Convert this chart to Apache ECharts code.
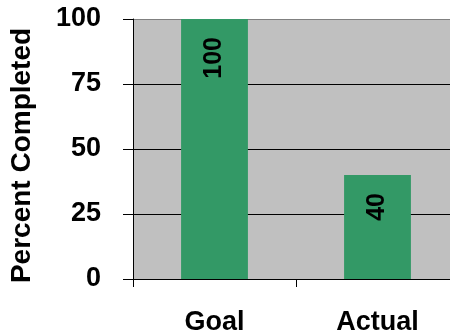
<!DOCTYPE html>
<html>
<head>
<meta charset="utf-8">
<script src="https://cdn.jsdelivr.net/npm/echarts@6/dist/echarts.min.js"></script>
<style>
html,body{margin:0;padding:0;background:#fff;}
#chart{width:450px;height:331px;}
</style>
</head>
<body>
<div id="chart"></div>
<script>
const categories = ['Goal', 'Actual'];
const percentValues = [100, 40];
const yTicks = [0, 25, 50, 75, 100];
const yTitle = 'Percent Completed';

const FONT = '"Liberation Sans", Arial, sans-serif';
const chart = echarts.init(document.getElementById('chart'), null, {renderer: 'canvas'});
chart.setOption({
  animation: false,
  grid: {
    left: 133, top: 19, width: 326, height: 260,
    outerBoundsMode: 'none',
    containLabel: false,
    show: true, backgroundColor: '#C0C0C0', borderWidth: 0
  },
  xAxis: {
    type: 'category',
    data: categories,
    axisLine: {lineStyle: {color: '#000', width: 1}},
    axisTick: {show: true, length: 8, inside: false, lineStyle: {color: '#000'}},
    axisLabel: {color: '#000', fontFamily: FONT, fontWeight: 'bold', fontSize: 27, margin: 30},
    splitLine: {show: false}
  },
  yAxis: {
    type: 'value',
    min: yTicks[0], max: yTicks[yTicks.length - 1], interval: 25,
    name: yTitle,
    nameLocation: 'middle',
    nameGap: 97,
    nameTextStyle: {color: '#000', fontFamily: FONT, fontWeight: 'bold', fontSize: 28, padding: [0, 13, 0, 0]},
    axisLine: {show: true, lineStyle: {color: '#000', width: 1}},
    axisTick: {show: true, length: 10, lineStyle: {color: '#000'}},
    axisLabel: {color: '#000', fontFamily: FONT, fontWeight: 'bold', fontSize: 27, margin: 32},
    splitLine: {show: true, lineStyle: {color: ['#000', '#000', '#000', '#000', '#808080'], width: 1}}
  },
  series: [{
    type: 'bar',
    data: percentValues,
    barWidth: '41%',
    itemStyle: {color: '#339966'},
    label: {
      show: true,
      position: ['50%', 18],
      rotate: 90,
      align: 'right',
      verticalAlign: 'middle',
      color: '#000',
      fontFamily: FONT,
      fontWeight: 'bold',
      fontSize: 25
    }
  }]
});
</script>
</body>
</html>
